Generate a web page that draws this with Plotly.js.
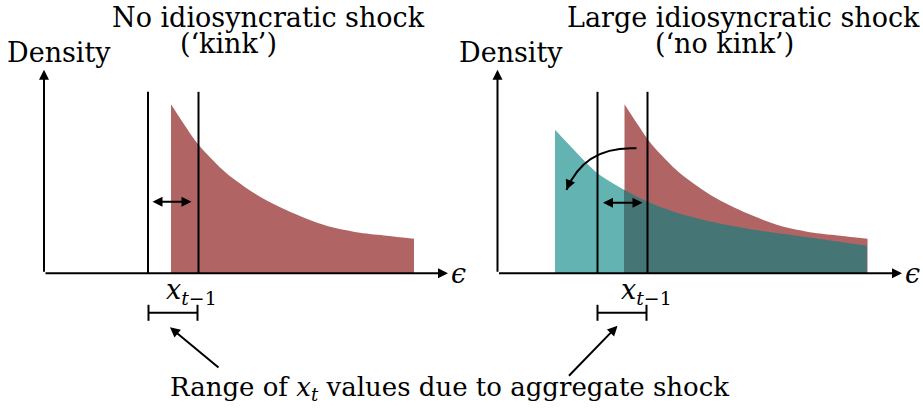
<!DOCTYPE html>
<html><head><meta charset="utf-8">
<script src="https://cdn.plot.ly/plotly-3.0.1.min.js"></script>
<style>html,body{margin:0;padding:0;background:#fff}</style>
</head><body><div id="chart" style="width:923px;height:409px"></div>
<script>
// ---- text ----
const panelTitles = ["No idiosyncratic shock", "Large idiosyncratic shock"];
const panelSubtitles = ["(‘kink’)", "(‘no kink’)"];
const yLabel = "Density";
const xLabel = "<i>ϵ</i>";
const lagLabel = "<i>x</i><sub><i>t</i>−1</sub>";
const bottomLabel = "Range of <i>x</i><sub><i>t</i></sub> values due to aggregate shock";

// ---- densities ----
const redEps  = [2.54, 2.82, 3.09, 3.65, 4.32, 4.99, 5.65, 6.32, 6.86, 7.40];
const redDens = [3.38, 2.95, 2.57, 2.00, 1.53, 1.20, 0.95, 0.81, 0.75, 0.69];
const tealEps  = [1.15, 1.48, 2.00, 2.53, 3.00, 3.62, 4.28, 4.95, 5.62, 6.28, 7.39];
const tealDens = [2.87, 2.52, 2.00, 1.67, 1.43, 1.20, 1.03, 0.90, 0.80, 0.71, 0.55];

// ---- guides ----
const xPrevLines = [[2.08, 3.09], [2.00, 3.00]];
const lineTop = 3.63;
const axisXEnd = [8.08, 8.09];
const axisYEnd = 4.07;
const shockArrowX = [[2.14, 2.95], [2.08, 2.90]];
const shockArrowY = [1.43, 1.41];
const bracketX = [[2.09, 3.07], [2.00, 2.98]];
const bracketY = -0.79;
const bracketTick = 0.16;
const pointerTip = [[2.52, -1.08], [2.40, -1.05]];
const pointerTail = [[3.52, -1.91], [1.40, -2.08]];
const lagLabelPos = [[2.94, -0.36], [2.97, -0.36]];
const titlePos = [[4.48, 5.11], [4.92, 5.11]];
const subtitlePos = [[3.68, 4.59], [4.53, 4.59]];
const yLabelPos = [[0.30, 4.41], [0.27, 4.41]];
const xLabelPos = [[8.28, 0.0], [8.29, 0.0]];
const curveStart = [2.78, 2.50], curveCtrl = [1.75, 2.55], curveEnd = [1.38, 1.67];

const RED = "#b06464", TEAL = "#63b3b3", DARK = "#457575";
const FONT = "DejaVu Serif";

const traces = [];
function fillTrace(x, y, color, xa, ya) {
  return {x: x, y: y, type: "scatter", mode: "lines", fill: "tozeroy",
    fillcolor: color, line: {width: 0, color: color, shape: "spline", smoothing: 0.8}, xaxis: xa, yaxis: ya,
    hoverinfo: "skip", showlegend: false};
}
traces.push(fillTrace(redEps, redDens, RED, "x", "y"));
traces.push(fillTrace(redEps, redDens, RED, "x2", "y2"));
const redStart = redEps[0];
const lightX = [], lightY = [], darkX = [], darkY = [];
tealEps.forEach((e, i) => {
  if (e <= redStart + 1e-9) { lightX.push(e); lightY.push(tealDens[i]); }
  if (e >= redStart - 0.011) { darkX.push(e); darkY.push(tealDens[i]); }
});
traces.push(fillTrace(lightX, lightY, TEAL, "x2", "y2"));
traces.push(fillTrace(darkX, darkY, DARK, "x2", "y2"));

const shapes = [];
const annotations = [];
const axes = [["x", "y"], ["x2", "y2"]];
function arrow(xr, yr, x, y, ax, ay, side) {
  annotations.push({xref: xr, yref: yr, axref: xr, ayref: yr, x: x, y: y, ax: ax, ay: ay,
    text: "", showarrow: true, arrowhead: 2, arrowsize: 1, arrowwidth: 2, arrowcolor: "#000",
    arrowside: side || "end", standoff: 0, startstandoff: 0});
}
function text(xr, yr, x, y, t, size) {
  annotations.push({xref: xr, yref: yr, x: x, y: y, text: t, showarrow: false,
    xanchor: "center", yanchor: "middle", font: {family: FONT, size: size, color: "#000"}});
}
axes.forEach(([xr, yr], p) => {
  arrow(xr, yr, axisXEnd[p], 0, 0, 0);
  arrow(xr, yr, 0, axisYEnd, 0, 0);
  xPrevLines[p].forEach(v => shapes.push({type: "line", xref: xr, yref: yr, x0: v, x1: v, y0: 0, y1: lineTop,
    line: {color: "#000", width: 2}}));
  arrow(xr, yr, shockArrowX[p][1], shockArrowY[p], shockArrowX[p][0], shockArrowY[p], "end+start");
  const [b0, b1] = bracketX[p];
  shapes.push({type: "line", xref: xr, yref: yr, x0: b0, x1: b1, y0: bracketY, y1: bracketY, line: {color: "#000", width: 2}});
  [b0, b1].forEach(v => shapes.push({type: "line", xref: xr, yref: yr, x0: v, x1: v,
    y0: bracketY - bracketTick, y1: bracketY + bracketTick, line: {color: "#000", width: 2}}));
  arrow(xr, yr, pointerTip[p][0], pointerTip[p][1], pointerTail[p][0], pointerTail[p][1]);
  text(xr, yr, titlePos[p][0], titlePos[p][1], panelTitles[p], 27);
  text(xr, yr, subtitlePos[p][0], subtitlePos[p][1], panelSubtitles[p], 27);
  text(xr, yr, yLabelPos[p][0], yLabelPos[p][1], yLabel, 27);
  text(xr, yr, xLabelPos[p][0], xLabelPos[p][1], xLabel, 27);
  text(xr, yr, lagLabelPos[p][0], lagLabelPos[p][1], lagLabel, 27);
});
shapes.push({type: "path", xref: "x2", yref: "y2",
  path: `M ${curveStart[0]},${curveStart[1]} Q ${curveCtrl[0]},${curveCtrl[1]} ${curveEnd[0]},${curveEnd[1]}`,
  line: {color: "#000", width: 2}});
arrow("x2", "y2", curveEnd[0], curveEnd[1],
  curveEnd[0] + (curveCtrl[0] - curveEnd[0]) * 0.15, curveEnd[1] + (curveCtrl[1] - curveEnd[1]) * 0.15);
annotations.push({xref: "paper", yref: "paper", x: 0.4875, y: 0.051, text: bottomLabel, showarrow: false,
  xanchor: "center", yanchor: "middle", font: {family: FONT, size: 26, color: "#000"}});

const hidden = {visible: false, showgrid: false, zeroline: false, fixedrange: true};
const layout = {
  width: 923, height: 409, margin: {l: 0, r: 0, t: 0, b: 0},
  paper_bgcolor: "#fff", plot_bgcolor: "#fff", showlegend: false,
  font: {family: FONT},
  xaxis: Object.assign({domain: [0, 0.5], range: [-0.88, 8.35]}, hidden),
  yaxis: Object.assign({domain: [0, 1], range: [-2.714, 5.466], anchor: "x"}, hidden),
  xaxis2: Object.assign({domain: [0.5, 1], range: [-0.72, 8.51], anchor: "y2"}, hidden),
  yaxis2: Object.assign({domain: [0, 1], range: [-2.714, 5.466], anchor: "x2"}, hidden),
  shapes: shapes, annotations: annotations
};
Plotly.newPlot("chart", traces, layout, {displayModeBar: false, staticPlot: true});
</script></body></html>
